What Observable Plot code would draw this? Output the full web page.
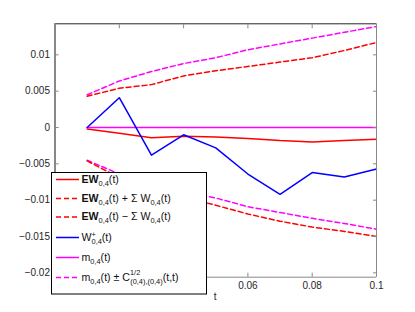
<!DOCTYPE html>
<html>
<head>
<meta charset="utf-8">
<script src="https://cdn.jsdelivr.net/npm/d3@7"></script>
<script src="https://cdn.jsdelivr.net/npm/@observablehq/plot@0.6"></script>
<style>
  html, body { margin: 0; padding: 0; background: #fff; }
  #chart { width: 415px; height: 312px; }
  svg { font-family: "Liberation Sans", Arial, Helvetica, sans-serif; }
</style>
</head>
<body>
<div id="chart"></div>
<script>
const t = [0.01, 0.02, 0.03, 0.04, 0.05, 0.06, 0.07, 0.08, 0.09, 0.1];
const ew = [-0.0002, -0.0008, -0.0014, -0.0012, -0.0013, -0.0015, -0.0018, -0.0020, -0.0018, -0.0016];
const ewPlus = [0.0043, 0.0054, 0.0059, 0.0071, 0.0078, 0.0084, 0.0090, 0.0096, 0.0106, 0.0117];
const ewMinus = [-0.0046, -0.0069, -0.0086, -0.0096, -0.0107, -0.0119, -0.0129, -0.0137, -0.0143, -0.0150];
const wPlus = [0, 0.0041, -0.0038, -0.0010, -0.0028, -0.0064, -0.0092, -0.0062, -0.0068, -0.0057];
const m = [0, 0, 0, 0, 0, 0, 0, 0, 0, 0];
const mPlus = [0.0045, 0.0064, 0.0077, 0.0088, 0.0096, 0.0107, 0.0115, 0.0123, 0.0131, 0.0139];
const mMinus = [-0.0045, -0.0064, -0.0077, -0.0088, -0.0097, -0.0109, -0.0117, -0.0125, -0.0132, -0.0140];

const xDomain = [0, 0.1];
const yDomain = [-0.0206, 0.01427];
const xTicks = [0, 0.02, 0.04, 0.06, 0.08, 0.1];
const yTicks = [-0.02, -0.015, -0.01, -0.005, 0, 0.005, 0.01];
const xTickLabels = ["0", "0.02", "0.04", "0.06", "0.08", "0.1"];
const yTickLabels = ["\u22120.02", "\u22120.015", "\u22120.01", "\u22120.005", "0", "0.005", "0.01"];

const RED = "#ff0000", BLUE = "#0000ff", MAG = "#ff00ff";
const DASH = "5,3";

const series = [
  {key: "mPlus", values: mPlus, stroke: MAG, dash: DASH},
  {key: "mMinus", values: mMinus, stroke: MAG, dash: DASH},
  {key: "ewPlus", values: ewPlus, stroke: RED, dash: DASH},
  {key: "ewMinus", values: ewMinus, stroke: RED, dash: DASH},
  {key: "m", values: m, stroke: MAG, dash: null},
  {key: "ew", values: ew, stroke: RED, dash: null},
  {key: "wPlus", values: wPlus, stroke: BLUE, dash: null}
];

const lineMarks = series.map(s =>
  Plot.line(t.map((x, i) => ({t: x, v: s.values[i]})), {
    x: "t", y: "v", stroke: s.stroke, strokeWidth: 1.5,
    strokeDasharray: s.dash ?? undefined
  })
);

const fmtX = d => xTickLabels[xTicks.indexOf(d)];
const fmtY = d => yTickLabels[yTicks.indexOf(d)];

const plot = Plot.plot({
  width: 415,
  height: 312,
  marginLeft: 54.5,
  marginRight: 39,
  marginTop: 23.3,
  marginBottom: 35.3,
  style: {fontSize: "10px", color: "#262626", background: "#fff", fontFamily: "'Liberation Sans', Arial, Helvetica, sans-serif"},
  x: {domain: xDomain},
  y: {domain: yDomain},
  marks: [
    ...lineMarks,
    Plot.ruleY([yDomain[1]], {stroke: "#262626", strokeWidth: 1}),
    Plot.ruleY([yDomain[0]], {stroke: "#888", strokeWidth: 1}),
    Plot.ruleX([xDomain[1]], {stroke: "#888", strokeWidth: 1}),
    Plot.ruleX([xDomain[0]], {stroke: "#888", strokeWidth: 2}),
    Plot.axisX(xTicks, {anchor: "bottom", tickSize: 0, tickPadding: 5, tickFormat: fmtX, label: null, fill: "#262626"}),
    Plot.axisX(xTicks, {anchor: "bottom", tickSize: -4, tickFormat: () => "", label: null, stroke: "#888"}),
    Plot.axisX(xTicks, {anchor: "top", tickSize: -4, tickFormat: () => "", label: null, stroke: "#888"}),
    Plot.axisY(yTicks, {anchor: "left", tickSize: 0, tickPadding: 5, tickFormat: fmtY, label: null, fill: "#262626"}),
    Plot.axisY(yTicks, {anchor: "left", tickSize: -4, tickFormat: () => "", label: null, stroke: "#888"}),
    Plot.axisY(yTicks, {anchor: "right", tickSize: -4, tickFormat: () => "", label: null, stroke: "#888"})
  ]
});

document.getElementById("chart").appendChild(plot);

// x label "t", centered under the axis
const svg = d3.select(plot);
const xs = plot.scale("x");
svg.append("text")
  .attr("x", (xs.apply(xDomain[0]) + xs.apply(xDomain[1])) / 2)
  .attr("y", 300)
  .attr("text-anchor", "middle")
  .attr("font-size", 10)
  .attr("fill", "#262626")
  .text("t");

// Legend (MATLAB-style box)
const legend = svg.append("g").attr("text-anchor", "start");
legend.append("rect")
  .attr("x", 51.5).attr("y", 172.5)
  .attr("width", 155).attr("height", 121.5)
  .attr("fill", "#fff").attr("stroke", "#000").attr("stroke-width", 1);

const entries = [
  {stroke: RED, dash: null},
  {stroke: RED, dash: DASH},
  {stroke: RED, dash: DASH},
  {stroke: BLUE, dash: null},
  {stroke: MAG, dash: null},
  {stroke: MAG, dash: DASH}
];
const rowY = [179.5, 198.5, 217, 237.5, 257.5, 277.5];
const FS = 10.6, SFS = 7.4;

entries.forEach((e, i) => {
  legend.append("line")
    .attr("x1", 56).attr("x2", 79)
    .attr("y1", rowY[i]).attr("y2", rowY[i])
    .attr("stroke", e.stroke).attr("stroke-width", 1.5)
    .attr("stroke-dasharray", e.dash);
});

function addText(i) {
  return legend.append("text")
    .attr("x", 81.5).attr("y", rowY[i] + 3)
    .attr("text-anchor", "start")
    .attr("font-size", FS).attr("fill", "#111");
}

// row 0: EW_{0,4}(t)
{
  const tx = addText(0);
  tx.append("tspan").attr("font-weight", "bold").text("EW");
  tx.append("tspan").attr("font-size", SFS).attr("dy", 3).text("0,4");
  tx.append("tspan").attr("dy", -3).text("(t)");
}
// row 1/2: EW_{0,4}(t) ± Σ W_{0,4}(t)
[[1, "+"], [2, "\u2212"]].forEach(([i, op]) => {
  const tx = addText(i);
  tx.append("tspan").attr("font-weight", "bold").text("EW");
  tx.append("tspan").attr("font-size", SFS).attr("dy", 3).text("0,4");
  tx.append("tspan").attr("dy", -3).text("(t) " + op + " \u03A3 W");
  tx.append("tspan").attr("font-size", SFS).attr("dy", 3).text("0,4");
  tx.append("tspan").attr("dy", -3).text("(t)");
});
// row 3: W^+_{0,4}(t)
{
  const tx = addText(3);
  tx.append("tspan").text("W");
  tx.append("tspan").attr("font-size", SFS).attr("dy", -4).text("+");
  tx.append("tspan").attr("font-size", SFS).attr("dx", -4.3).attr("dy", 7).text("0,4");
  tx.append("tspan").attr("dy", -3).text("(t)");
}
// row 4: m_{0,4}(t)
{
  const tx = addText(4);
  tx.append("tspan").text("m");
  tx.append("tspan").attr("font-size", SFS).attr("dy", 3).text("0,4");
  tx.append("tspan").attr("dy", -3).text("(t)");
}
// row 5: m_{0,4}(t) ± C^{1/2}_{(0,4),(0,4)}(t,t)
{
  const tx = addText(5);
  tx.append("tspan").text("m");
  tx.append("tspan").attr("font-size", SFS).attr("dy", 3).text("0,4");
  tx.append("tspan").attr("dy", -3).text("(t) \u00B1 C");
  tx.append("tspan").attr("font-size", SFS).attr("dy", -6).text("1/2");
  tx.append("tspan").attr("font-size", SFS).attr("dx", -10).attr("dy", 9).text("(0,4),(0,4)");
  tx.append("tspan").attr("dy", -3).text("(t,t)");
}
</script>
</body>
</html>
